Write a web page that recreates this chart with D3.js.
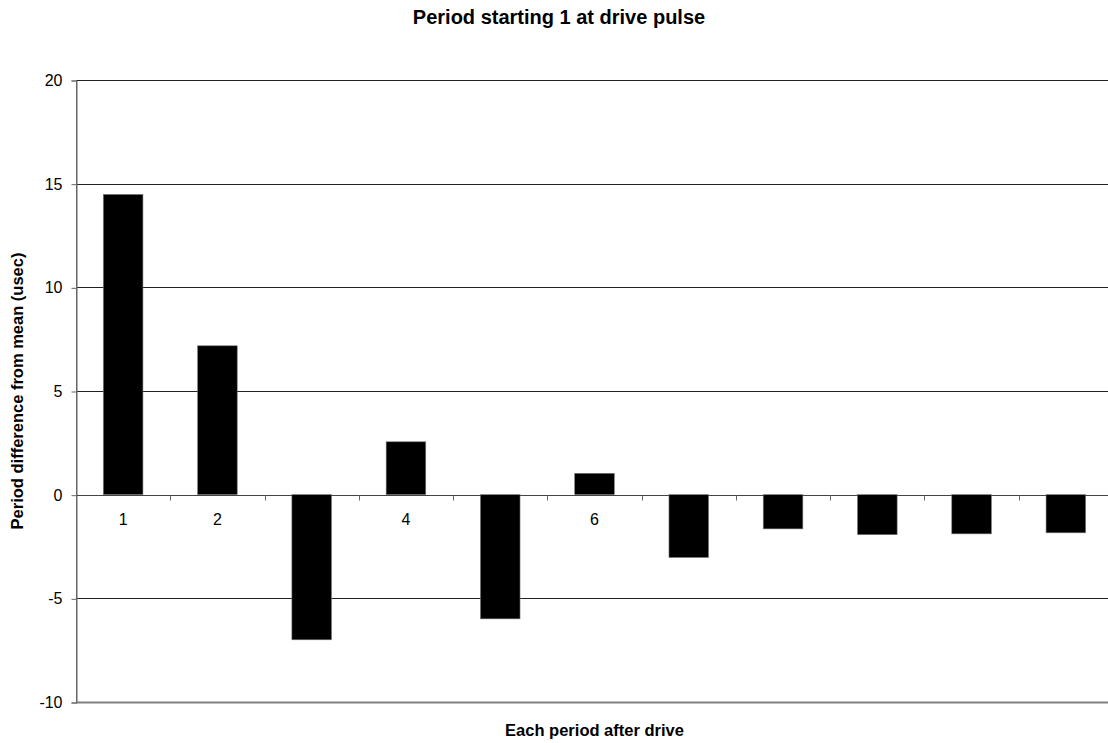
<!DOCTYPE html>
<html>
<head>
<meta charset="utf-8">
<script src="https://cdn.jsdelivr.net/npm/d3@7"></script>
<style>
  html, body { margin: 0; padding: 0; background: #fff; }
  svg { display: block; font-family: "Liberation Sans", Arial, sans-serif; }
</style>
</head>
<body>
<svg id="chart" width="1108" height="743"></svg>
<script>
// Period number after the drive pulse
const periods = ["1", "2", "3", "4", "5", "6", "7", "8", "9", "10", "11"];
// Difference of each period from the mean period, in microseconds
const diffs = [14.48, 7.18, -7.0, 2.55, -5.99, 1.03, -3.03, -1.65, -1.93, -1.89, -1.84];
// Value axis ticks
const yTicks = [-10, -5, 0, 5, 10, 15, 20];

const titleText = "Period starting 1 at drive pulse";
const xTitleText = "Each period after drive";
const yTitleText = "Period difference from mean (usec)";

const svg = d3.select("#chart");
const plot = { left: 76, right: 1113, top: 80, bottom: 702 };

const x = d3.scaleBand()
  .domain(periods)
  .range([plot.left, plot.right])
  .paddingInner(0.58)
  .paddingOuter(0.29);

const y = d3.scaleLinear()
  .domain([d3.min(yTicks), d3.max(yTicks)])
  .range([plot.bottom, plot.top]);

// Horizontal gridlines
svg.append("g")
  .selectAll("line")
  .data(yTicks)
  .join("line")
  .attr("x1", plot.left)
  .attr("x2", plot.right)
  .attr("y1", d => Math.round(y(d)) + 0.5)
  .attr("y2", d => Math.round(y(d)) + 0.5)
  .attr("stroke", d => d === d3.min(yTicks) ? "#808080" : "#222")
  .attr("stroke-width", d => d === d3.min(yTicks) ? 2 : 1);

// Value axis on the left (plain hyphen for negatives)
const yAxis = d3.axisLeft(y)
  .tickValues(yTicks)
  .tickSize(5)
  .tickPadding(9)
  .tickFormat(d => String(d));

const yG = svg.append("g")
  .attr("transform", `translate(${plot.left + 0.5},0.5)`)
  .call(yAxis);
yG.select(".domain").attr("stroke", "#666");
yG.selectAll(".tick line").attr("stroke", "#666");
yG.selectAll(".tick text")
  .attr("font-size", 16)
  .attr("font-family", "Liberation Sans, Arial, sans-serif")
  .attr("fill", "#000");

// Category axis crossing at zero, labels underneath (bars are drawn over them)
const y0 = Math.round(y(0)) + 0.5;
const xAxis = d3.axisBottom(x).tickSize(0).tickPadding(18);
const xG = svg.append("g")
  .attr("transform", `translate(0,${y0})`)
  .call(xAxis);
xG.select(".domain").remove();
xG.selectAll(".tick text")
  .attr("font-size", 16)
  .attr("font-family", "Liberation Sans, Arial, sans-serif")
  .attr("fill", "#000");

// Axis line at zero and tick marks between categories
const boundaries = d3.range(periods.length + 1).map(i => plot.left + i * x.step());
svg.append("line")
  .attr("x1", plot.left).attr("x2", plot.right)
  .attr("y1", y0).attr("y2", y0)
  .attr("stroke", "#444");
svg.append("g")
  .selectAll("line")
  .data(boundaries)
  .join("line")
  .attr("x1", d => Math.round(d) + 0.5)
  .attr("x2", d => Math.round(d) + 0.5)
  .attr("y1", y0)
  .attr("y2", y0 + 5)
  .attr("stroke", "#666");

// Bars
svg.append("g")
  .selectAll("rect")
  .data(periods.map((p, i) => ({ p, v: diffs[i] })))
  .join("rect")
  .attr("x", d => x(d.p))
  .attr("width", x.bandwidth())
  .attr("y", d => y(Math.max(0, d.v)))
  .attr("height", d => Math.abs(y(d.v) - y(0)))
  .attr("fill", "#000")
  .attr("stroke", "#777")
  .attr("stroke-width", 0.6);

// Left axis line redrawn on top
svg.append("line")
  .attr("x1", plot.left + 0.5).attr("x2", plot.left + 0.5)
  .attr("y1", plot.top).attr("y2", plot.bottom)
  .attr("stroke", "#666");

// Titles
svg.append("text")
  .attr("x", 559)
  .attr("y", 24)
  .attr("text-anchor", "middle")
  .attr("font-weight", "bold")
  .attr("font-size", 20)
  .text(titleText);

svg.append("text")
  .attr("x", (plot.left + plot.right) / 2)
  .attr("y", 736)
  .attr("text-anchor", "middle")
  .attr("font-weight", "bold")
  .attr("font-size", 16.5)
  .text(xTitleText);

svg.append("text")
  .attr("transform", `translate(23,${(plot.top + plot.bottom) / 2}) rotate(-90)`)
  .attr("text-anchor", "middle")
  .attr("font-weight", "bold")
  .attr("font-size", 16.5)
  .text(yTitleText);
</script>
</body>
</html>
